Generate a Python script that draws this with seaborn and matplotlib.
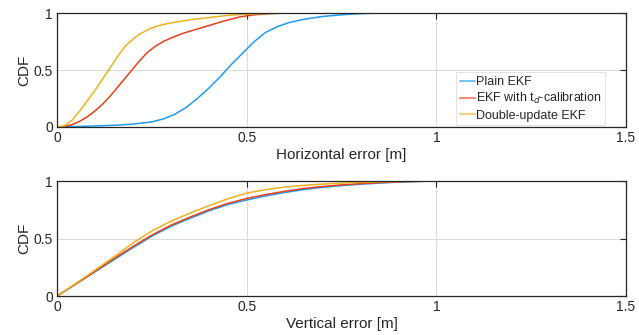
import pandas as pd
import numpy as np
import matplotlib
matplotlib.use('Agg')
import matplotlib.pyplot as plt
import seaborn as sns

#%% data (CDF of error)
names = ['Plain EKF', 'EKF with t$_d$-calibration', 'Double-update EKF']

# horizontal error
hx_plain = [0, 0.05, 0.1, 0.15, 0.2, 0.25, 0.28, 0.31, 0.34, 0.37, 0.4, 0.43, 0.46, 0.49, 0.52,
            0.55, 0.58, 0.61, 0.65, 0.7, 0.75, 0.8, 0.85, 1.5]
hc_plain = [0, 0.004, 0.009, 0.015, 0.025, 0.045, 0.07, 0.11, 0.17, 0.25, 0.34, 0.44, 0.55, 0.65, 0.75,
            0.83, 0.88, 0.915, 0.945, 0.97, 0.985, 0.995, 1, 1]
hx_td = [0, 0.02, 0.04, 0.06, 0.08, 0.1, 0.12, 0.14, 0.16, 0.18, 0.2, 0.22, 0.24, 0.26, 0.28, 0.3,
         0.33, 0.36, 0.4, 0.44, 0.48, 0.52, 0.56, 0.6, 0.7, 1.5]
hc_td = [0, 0.004, 0.02, 0.05, 0.09, 0.14, 0.2, 0.27, 0.35, 0.43, 0.51, 0.59, 0.66, 0.71, 0.75, 0.78,
         0.82, 0.85, 0.89, 0.93, 0.965, 0.985, 0.995, 1, 1, 1]
hx_dbl = [0, 0.02, 0.04, 0.06, 0.08, 0.1, 0.12, 0.14, 0.16, 0.18, 0.2, 0.22, 0.25, 0.28, 0.32, 0.36,
          0.4, 0.45, 0.5, 0.55, 0.6, 1.5]
hc_dbl = [0, 0.01, 0.06, 0.14, 0.23, 0.32, 0.42, 0.52, 0.62, 0.71, 0.77, 0.82, 0.87, 0.9, 0.925, 0.945,
          0.96, 0.98, 0.99, 0.997, 1, 1]

# vertical error
vx = [0, 0.05, 0.1, 0.15, 0.2, 0.25, 0.3, 0.35, 0.4, 0.45, 0.5, 0.55, 0.6, 0.65, 0.7, 0.75,
      0.8, 0.85, 0.9, 0.95, 1.0, 1.5]
vc_plain = [0, 0.105, 0.21, 0.315, 0.42, 0.52, 0.605, 0.675, 0.74, 0.795, 0.835, 0.87, 0.9, 0.925,
            0.945, 0.96, 0.972, 0.982, 0.99, 0.996, 1, 1]
vc_td = [0, 0.105, 0.215, 0.325, 0.43, 0.53, 0.615, 0.685, 0.75, 0.805, 0.848, 0.882, 0.91, 0.935,
         0.952, 0.966, 0.977, 0.986, 0.993, 0.997, 1, 1]
vc_dbl = [0, 0.11, 0.225, 0.34, 0.46, 0.565, 0.65, 0.72, 0.785, 0.845, 0.895, 0.925, 0.948, 0.962,
          0.973, 0.981, 0.988, 0.993, 0.997, 0.999, 1, 1]

#%% build long-form tables
def long_df(xs, cs):
    frames = []
    for k in range(3):
        frames.append(pd.DataFrame({'err': xs[k], 'cdf': cs[k], 'method': names[k]}))
    return pd.concat(frames, ignore_index=True)

df_h = long_df([hx_plain, hx_td, hx_dbl], [hc_plain, hc_td, hc_dbl])
df_v = long_df([vx, vx, vx], [vc_plain, vc_td, vc_dbl])

#%% plot style
sns.set_style('white')
plt.rcParams['font.family'] = ['Liberation Sans', 'DejaVu Sans']
cl = ['#1f9bf0', '#e6401a', '#edb120']

fig = plt.figure(figsize=(6.39, 3.35), dpi=100)
ax1 = fig.add_axes([0.0892, 0.621, 0.8905, 0.340])
ax2 = fig.add_axes([0.0892, 0.1164, 0.8905, 0.3433])

sns.lineplot(data=df_h, x='err', y='cdf', hue='method', palette=cl,
             estimator=None, sort=False, linewidth=1.1, ax=ax1)
sns.lineplot(data=df_v, x='err', y='cdf', hue='method', palette=cl,
             estimator=None, sort=False, linewidth=1.1, ax=ax2, legend=False)

xlabels = ['Horizontal error [m]', 'Vertical error [m]']
for i, ax in enumerate([ax1, ax2]):
    ax.set_xlim(0, 1.5)
    ax.set_ylim(0, 1)
    ax.set_xticks([0, 0.5, 1, 1.5])
    ax.set_xticklabels(['0', '0.5', '1', '1.5'])
    ax.set_yticks([0, 0.5, 1])
    ax.set_yticklabels(['0', '0.5', '1'])
    ax.grid(True, color='#dcdcdc', linewidth=0.8)
    ax.set_axisbelow(True)
    ax.tick_params(direction='in', length=4, width=0.8, color='#262626',
                   top=True, right=True, labelsize=10, labelcolor='#262626', pad=3)
    for sp in ax.spines.values():
        sp.set_color('#262626')
        sp.set_linewidth(0.9)
    ax.set_xlabel(xlabels[i], fontsize=11, color='#262626', labelpad=2)
    ax.set_ylabel('CDF', fontsize=11, color='#262626', labelpad=2)

leg = ax1.legend(loc='lower right', bbox_to_anchor=(0.963, 0.015), fontsize=9,
                 frameon=True, fancybox=False,
                 handlelength=1.2, handletextpad=0.1, borderpad=0.3,
                 labelspacing=0.25, borderaxespad=0.0)
leg.get_frame().set_edgecolor('#dcdcdc')
leg.get_frame().set_linewidth(0.8)
for h in leg.get_lines():
    h.set_alpha(0.6)
    h.set_linewidth(1.5)

fig.savefig('out.png', dpi=100)
